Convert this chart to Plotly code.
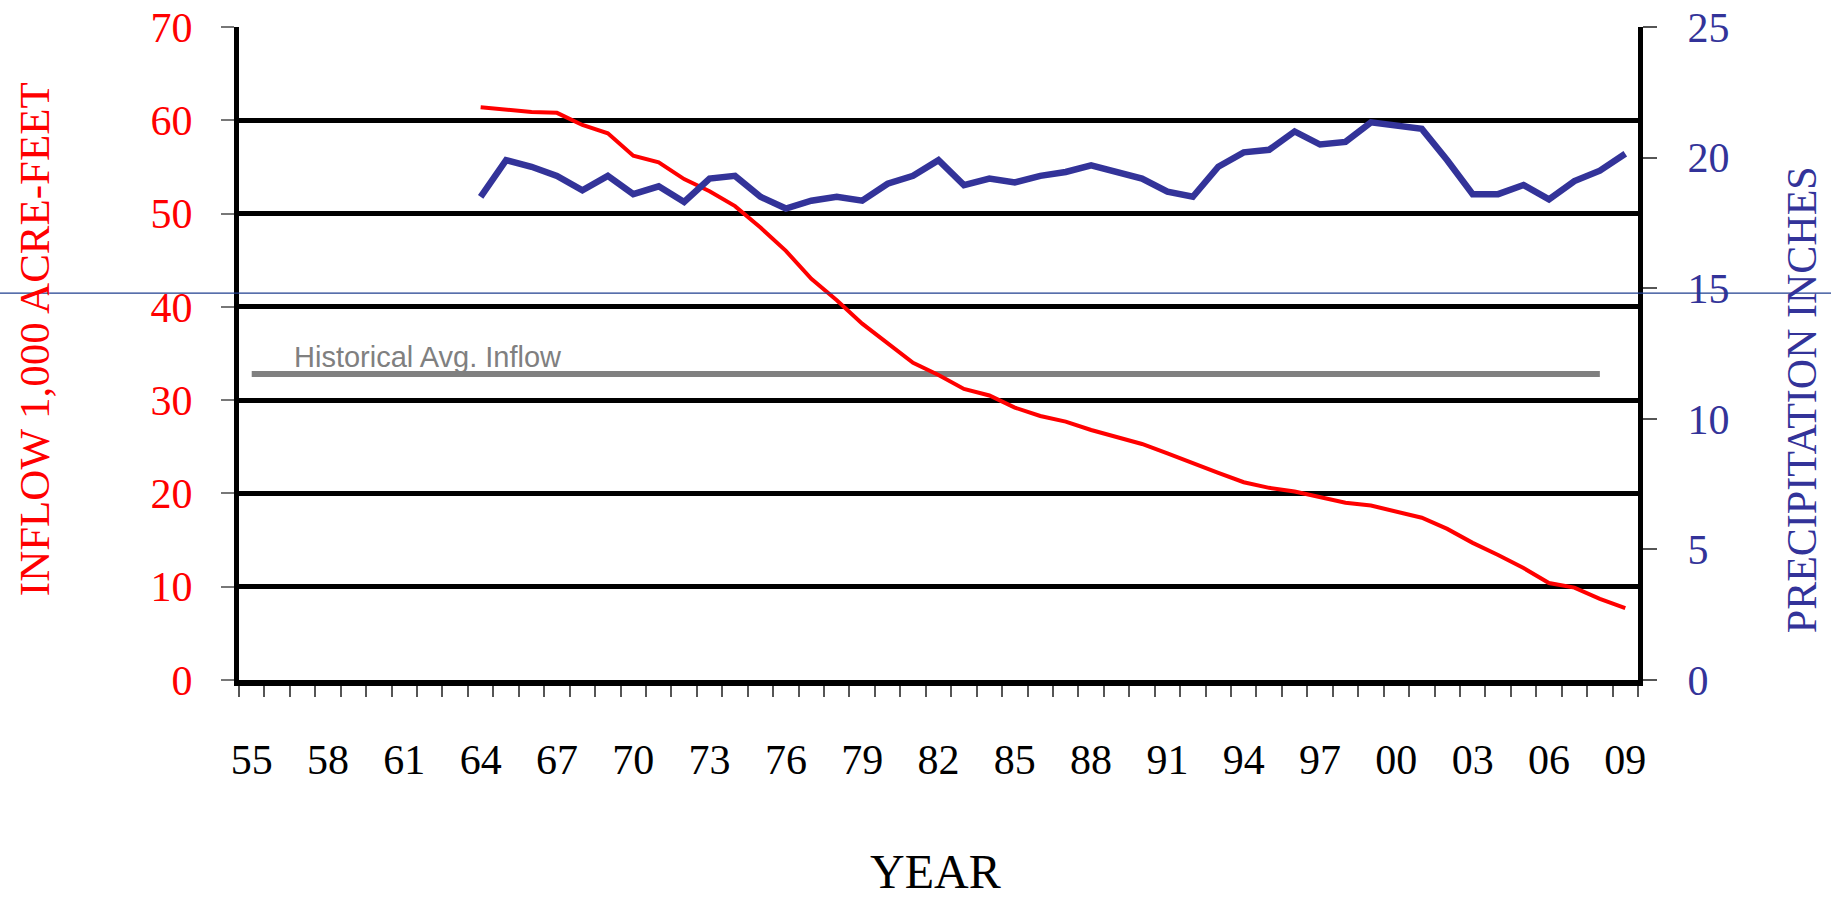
import plotly.graph_objects as go

years = list(range(1964, 2010))
inflow = [61.4, 61.1, 60.9, 60.8, 59.5, 58.6, 56.2, 55.5, 53.7, 52.4,
          50.8, 48.5, 46.0, 43.0, 40.7, 38.2, 36.1, 34.0, 32.7, 31.2,
          30.5, 29.2, 28.3, 27.7, 26.8, 26.1, 25.3, 24.3, 23.2, 22.2,
          21.2, 20.6, 20.2, 19.6, 19.0, 18.7, 18.1, 17.4, 16.2, 14.7,
          13.4, 12.0, 10.4, 9.9, 8.7, 7.7]
precip = [18.5, 19.9, 19.65, 19.3, 18.75, 19.3, 18.6, 18.9, 18.3, 19.2,
          19.3, 18.5, 18.05, 18.35, 18.5, 18.35, 19.0, 19.3, 19.9, 18.95,
          19.2, 19.05, 19.3, 19.45, 19.7, 19.45, 19.2, 18.7, 18.5, 19.65,
          20.2, 20.3, 21.0, 20.5, 20.6, 21.35, 21.25, 21.1, 19.9, 18.6,
          18.6, 18.95, 18.4, 19.1, 19.5, 20.15]
hist_years = [1955, 2008]
hist_avg = [32.8, 32.8]
tick_years = list(range(1955, 2010, 3))
tick_labels = ["55", "58", "61", "64", "67", "70", "73", "76", "79", "82",
               "85", "88", "91", "94", "97", "00", "03", "06", "09"]
left_ticks = [0, 10, 20, 30, 40, 50, 60, 70]
right_ticks = [0, 5, 10, 15, 20, 25]

RED = "#FF0000"
BLUE = "#333399"
SERIF = "Liberation Serif, Times New Roman, serif"

fig = go.Figure()
fig.add_trace(go.Scatter(x=hist_years, y=hist_avg, mode="lines",
                         line=dict(color="#808080", width=6), hoverinfo="skip"))
fig.add_trace(go.Scatter(x=years, y=inflow, mode="lines",
                         line=dict(color=RED, width=4)))
fig.add_trace(go.Scatter(x=years, y=precip, mode="lines", yaxis="y2",
                         line=dict(color=BLUE, width=6.5)))

fig.update_layout(
    width=1831, height=900, autosize=False,
    margin=dict(l=239, r=193, t=27, b=220),
    paper_bgcolor="white", plot_bgcolor="white",
    showlegend=False,
    xaxis=dict(
        range=[1954.5, 2009.5], tickmode="array", tickvals=tick_years,
        ticktext=tick_labels, ticks="", ticklen=0, showgrid=False,
        zeroline=False, showline=True, linecolor="black", linewidth=5.5,
        mirror=False, ticklabelstandoff=38, automargin=False,
        tickfont=dict(family=SERIF, size=42, color="black"),
        minor=dict(tick0=1954.5, dtick=1, ticks="outside", ticklen=11,
                   tickcolor="#555555", tickwidth=1.5, showgrid=False),
    ),
    yaxis=dict(
        range=[0, 70], tickmode="array", tickvals=left_ticks,
        ticks="outside", ticklen=13, tickcolor="#777777", tickwidth=1.5,
        showgrid=True, gridcolor="black", gridwidth=5, zeroline=False,
        showline=True, linecolor="black", linewidth=5,
        ticklabelstandoff=20, automargin=False,
        tickfont=dict(family=SERIF, size=42, color=RED),
    ),
    yaxis2=dict(
        range=[0, 25], tickmode="array", tickvals=right_ticks,
        overlaying="y", side="right", ticks="outside", ticklen=14,
        tickcolor="#555555", tickwidth=1.5, showgrid=False, zeroline=False,
        showline=True, linecolor="black", linewidth=5,
        ticklabelstandoff=22, automargin=False,
        tickfont=dict(family=SERIF, size=42, color=BLUE),
    ),
    annotations=[
        dict(text="Historical Avg. Inflow", x=1956.6, y=32.8, xref="x", yref="y",
             xanchor="left", yanchor="bottom", showarrow=False, yshift=-1,
             font=dict(family="Liberation Sans, Arial, sans-serif", size=29, color="#808080")),
        dict(text="INFLOW 1,000 ACRE-FEET", x=-0.1465, y=0.522, xref="paper", yref="paper",
             xanchor="center", yanchor="middle", showarrow=False, textangle=-90,
             font=dict(family=SERIF, size=43, color=RED)),
        dict(text="PRECIPITATION INCHES", x=1.1172, y=0.430, xref="paper", yref="paper",
             xanchor="center", yanchor="middle", showarrow=False, textangle=-90,
             font=dict(family=SERIF, size=42, color=BLUE)),
        dict(text="YEAR", x=0.498, y=-0.293, xref="paper", yref="paper",
             xanchor="center", yanchor="middle", showarrow=False,
             font=dict(family=SERIF, size=48, color="black")),
    ],
    shapes=[
        dict(type="line", xref="paper", yref="paper", x0=-0.172, x1=1.139,
             y0=0.5924, y1=0.5924, line=dict(color="#1F3F8F", width=1.2), layer="above"),
    ],
)

fig.write_html("out.html", config={"displayModeBar": False},
               post_script="document.body.style.margin='0';document.body.style.overflow='hidden';")
